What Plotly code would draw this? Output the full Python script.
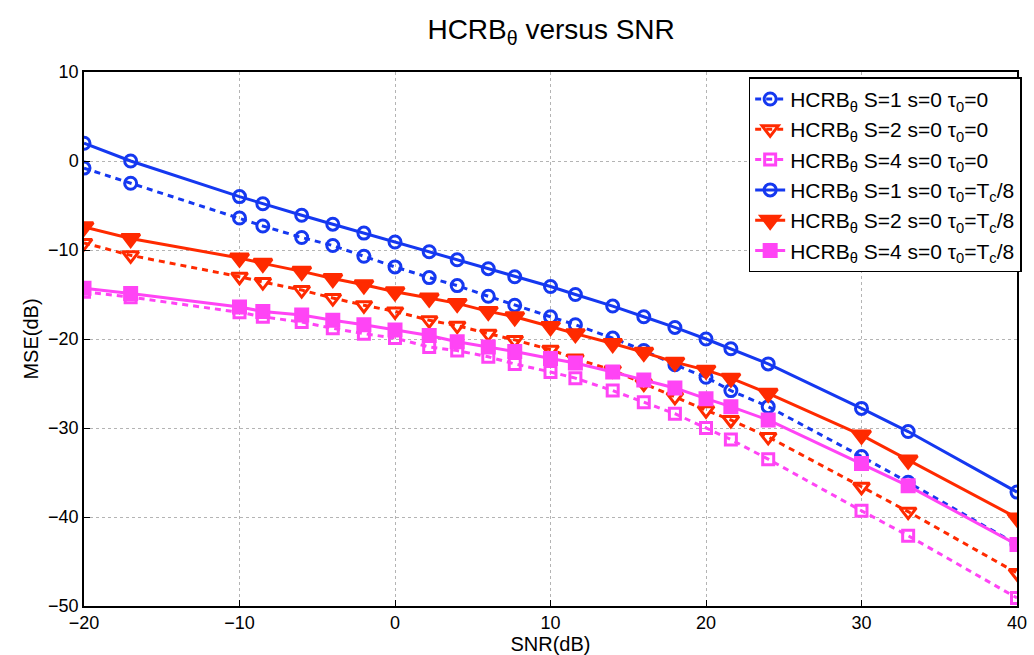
import plotly.graph_objects as go

snr = [-20, -17, -10, -8.5, -6, -4, -2, 0, 2.2, 4, 6, 7.7, 10, 11.6, 14, 16, 18, 20, 21.6, 24, 30, 33, 40]

s1_t0 = [-0.8, -2.5, -6.4, -7.3, -8.6, -9.5, -10.7, -11.9, -13.1, -14.0, -15.2, -16.2,
         -17.5, -18.4, -19.9, -21.3, -22.9, -24.3, -25.8, -27.6, -33.2, -36.1, -43.1]
s2_t0 = [-9.2, -10.6, -13.0, -13.6, -14.5, -15.4, -16.2, -16.9, -17.9, -18.5, -19.4, -20.1,
         -21.2, -22.2, -23.5, -25.0, -26.5, -28.0, -29.1, -31.0, -36.6, -39.4, -46.3]
s4_t0 = [-14.7, -15.3, -17.0, -17.5, -18.1, -18.8, -19.4, -19.9, -20.9, -21.3, -22.0, -22.8,
         -23.7, -24.4, -25.8, -27.1, -28.4, -30.0, -31.3, -33.5, -39.3, -42.1, -49.1]
s1_tc = [2.0, 0.0, -4.0, -4.8, -6.1, -7.1, -8.1, -9.1, -10.2, -11.1, -12.1, -13.0,
         -14.1, -15.0, -16.3, -17.5, -18.7, -20.0, -21.1, -22.8, -27.8, -30.4, -37.2]
s2_tc = [-7.4, -8.7, -10.9, -11.5, -12.4, -13.2, -13.9, -14.7, -15.4, -16.0, -16.9, -17.5,
         -18.6, -19.4, -20.5, -21.5, -22.6, -23.5, -24.4, -26.1, -30.8, -33.6, -40.1]
s4_tc = [-14.3, -14.9, -16.4, -16.9, -17.3, -17.9, -18.4, -19.0, -19.6, -20.3, -20.9, -21.4,
         -22.2, -22.7, -23.7, -24.6, -25.5, -26.7, -27.6, -29.1, -34.0, -36.5, -43.1]

names = [
    "HCRB<sub>θ</sub> S=1 s=0 τ<sub>0</sub>=0",
    "HCRB<sub>θ</sub> S=2 s=0 τ<sub>0</sub>=0",
    "HCRB<sub>θ</sub> S=4 s=0 τ<sub>0</sub>=0",
    "HCRB<sub>θ</sub> S=1 s=0 τ<sub>0</sub>=T<sub>c</sub>/8",
    "HCRB<sub>θ</sub> S=2 s=0 τ<sub>0</sub>=T<sub>c</sub>/8",
    "HCRB<sub>θ</sub> S=4 s=0 τ<sub>0</sub>=T<sub>c</sub>/8",
]

BLUE = "#1538f0"
RED = "#ff2a00"
MAG = "#ff44f5"
FONT = "Liberation Sans, Arial, sans-serif"

series = [
    (s1_t0, BLUE, "circle-open", 12, "6px,5px"),
    (s2_t0, RED, "triangle-down-open", 14, "6px,5px"),
    (s4_t0, MAG, "square-open", 11, "6px,5px"),
    (s1_tc, BLUE, "circle-open", 12, "solid"),
    (s2_tc, RED, "triangle-down", 16, "solid"),
    (s4_tc, MAG, "square", 12, "solid"),
]

fig = go.Figure()
for (ys, col, sym, sz, dash), nm in zip(series, names):
    fig.add_trace(go.Scatter(
        x=snr, y=ys, name=nm, mode="lines+markers",
        line=dict(color=col, width=3, dash=dash),
        marker=dict(symbol=sym, size=sz, color=col,
                    line=dict(color=col, width=3)),
    ))

axis_common = dict(
    showline=True, linecolor="black", linewidth=1.5, mirror=True,
    ticks="inside", ticklen=6, tickcolor="black",
    showgrid=True, gridcolor="#b4b4b4", griddash="dot", gridwidth=1,
    zeroline=False, automargin=False,
    tickfont=dict(size=18, color="black", family=FONT),
)

fig.update_layout(
    width=1034, height=655,
    paper_bgcolor="white", plot_bgcolor="white",
    margin=dict(l=84, r=17, t=72, b=49, autoexpand=False),
    title=dict(text="HCRB<sub>θ</sub> versus SNR", x=0.533, xanchor="center",
               y=0.955, yanchor="middle",
               font=dict(size=28, color="black", family=FONT)),
    xaxis=dict(range=[-20, 40], dtick=10,
               title=dict(text="SNR(dB)", standoff=0,
                          font=dict(size=20, color="black", family=FONT)),
               **axis_common),
    yaxis=dict(range=[-50, 10], dtick=10,
               title=dict(text="MSE(dB)", standoff=4,
                          font=dict(size=20, color="black", family=FONT)),
               **axis_common),
    legend=dict(x=1.005, xanchor="right", y=0.99, yanchor="top",
                bgcolor="white", bordercolor="black", borderwidth=1.5,
                font=dict(size=21, color="black", family=FONT),
                tracegroupgap=0, itemwidth=30),
    showlegend=True,
)

fig.write_html("out.html", config={"displayModeBar": False},
               post_script="document.body.style.margin='0';")
